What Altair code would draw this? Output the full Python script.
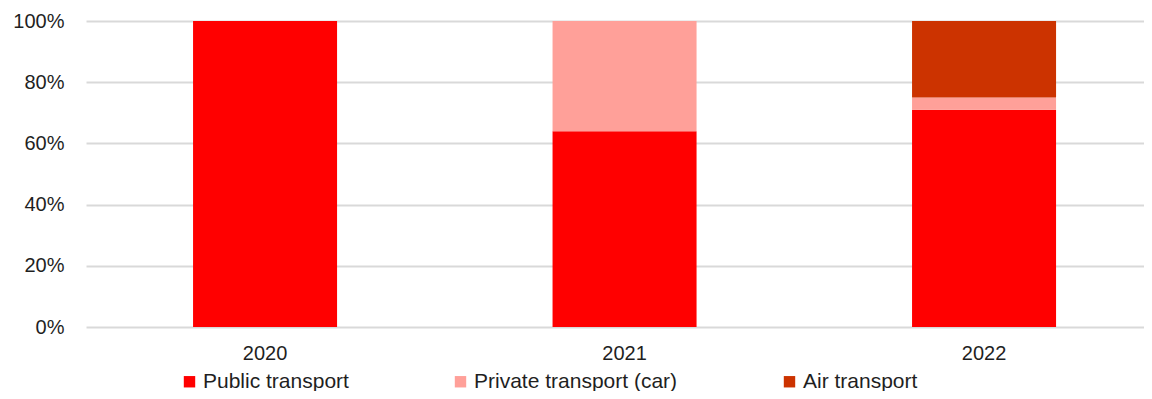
import altair as alt
import pandas as pd

years = ["2020", "2021", "2022"]
categories = ["Public transport", "Private transport (car)", "Air transport"]
public = [1.00, 0.64, 0.71]
private = [0.00, 0.36, 0.04]
air = [0.00, 0.00, 0.25]
colors = ["#FF0000", "#FFA099", "#CC3300"]

rows = []
for i, y in enumerate(years):
    for k, (cat, vals) in enumerate(zip(categories, [public, private, air])):
        rows.append({"year": y, "mode": cat, "share": vals[i], "order": k})
df = pd.DataFrame(rows)

FONT = "Liberation Sans"
TEXT = "#1F1F1F"

chart = alt.Chart(df).mark_bar().encode(
    x=alt.X("year:N", sort=years, title=None,
            scale=alt.Scale(paddingInner=0.5994, paddingOuter=0.2712, align=0.549),
            axis=alt.Axis(labelAngle=0, domain=False, ticks=False, grid=False,
                          labelFontSize=20, labelFont=FONT, labelColor=TEXT,
                          labelPadding=16)),
    y=alt.Y("share:Q", stack="zero", title=None,
            scale=alt.Scale(domain=[0, 1], nice=False),
            axis=alt.Axis(values=[0, 0.2, 0.4, 0.6, 0.8, 1.0], format=".0%",
                          domain=False, ticks=False, grid=True,
                          gridColor="#D9D9D9", gridWidth=2,
                          labelFontSize=20, labelFont=FONT, labelColor=TEXT,
                          labelPadding=22)),
    color=alt.Color("mode:N", sort=categories,
                    scale=alt.Scale(domain=categories, range=colors),
                    legend=alt.Legend(title=None, orient="none", direction="horizontal",
                                      legendX=93, legendY=350, columnPadding=101,
                                      symbolType="square", symbolSize=130,
                                      symbolStrokeWidth=0, symbolOpacity=1,
                                      labelFontSize=21, labelFont=FONT,
                                      labelColor=TEXT, labelOffset=3,
                                      labelLimit=0)),
    order=alt.Order("order:Q", sort="ascending"),
).properties(
    width=1058, height=306,
    autosize=alt.AutoSizeParams(type="none"),
    padding={"left": 78, "top": 13, "right": 0, "bottom": 64},
).configure_view(strokeWidth=0)

chart.save("out.html", embed_options={"renderer": "svg", "actions": False})
